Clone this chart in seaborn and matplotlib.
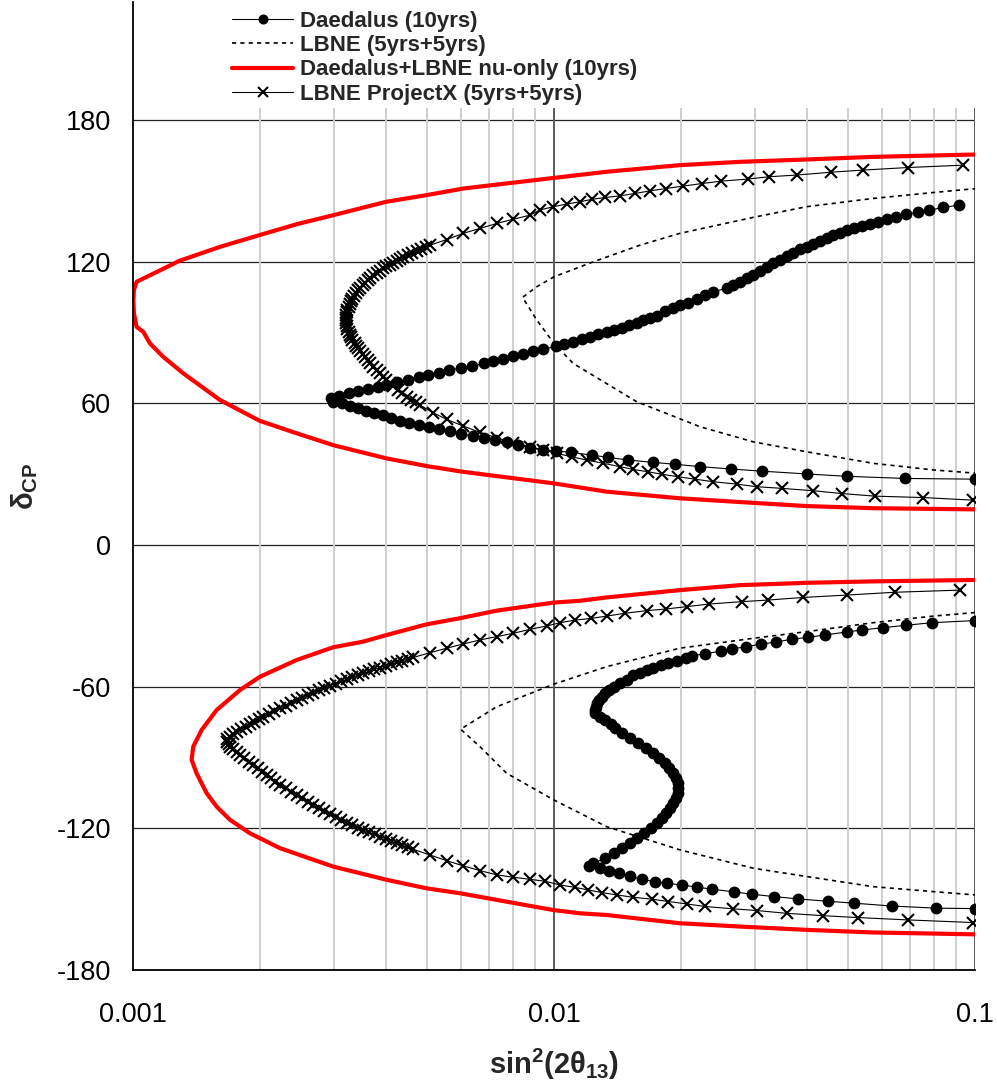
import matplotlib
matplotlib.use("Agg")
import matplotlib.pyplot as plt
import numpy as np
import seaborn as sns
from matplotlib.ticker import FixedLocator, FixedFormatter, LogLocator, MultipleLocator, NullFormatter

# (sin^2(2theta13), delta_CP) points
daedalus_upper = [
    (0.0918, 144.0), (0.0841, 143.0), (0.0779, 141.8), (0.0731, 141.0), (0.0686, 140.0),
    (0.0649, 139.0), (0.0617, 138.0), (0.0587, 137.0), (0.0563, 136.1), (0.0538, 135.1),
    (0.0516, 134.2), (0.0496, 133.4), (0.0478, 132.2), (0.0461, 131.3), (0.0444, 129.9),
    (0.0428, 128.9), (0.0413, 127.7), (0.03982, 126.3), (0.0384, 125.2), (0.03703, 123.8),
    (0.0357, 122.4), (0.03442, 120.8), (0.03319, 119.3), (0.0320, 117.6), (0.03086, 116.0),
    (0.02975, 114.5), (0.02869, 113.1), (0.02766, 111.5), (0.02667, 110.1), (0.02571, 108.7),
    (0.0239, 107.3), (0.02284, 105.7), (0.02183, 104.2), (0.02084, 102.6), (0.01992, 101.5),
    (0.0192, 100.4), (0.01835, 99.1), (0.01754, 97.1), (0.0169, 96.1), (0.0163, 95.1),
    (0.01572, 94.1), (0.01507, 93.0), (0.01448, 92.0), (0.01391, 91.0), (0.01334, 90.2),
    (0.01274, 89.2), (0.01218, 88.1), (0.01164, 87.1), (0.01108, 86.1), (0.01056, 85.0),
    (0.0101, 84.1), (0.00943, 82.9), (0.00893, 82.3), (0.00845, 80.9), (0.008, 80.0),
    (0.00758, 78.9), (0.00717, 77.9), (0.00683, 76.9), (0.00637, 75.8), (0.00601, 75.1),
    (0.00564, 74.0), (0.00533, 72.7), (0.00503, 71.9), (0.00477, 71.3), (0.00449, 69.9),
    (0.00423, 68.9), (0.004, 67.7), (0.00382, 67.0), (0.00362, 66.2), (0.00343, 65.1),
    (0.00326, 64.2), (0.00309, 63.2), (0.00295, 62.1), (0.00299, 60.7), (0.00313, 60.0),
    (0.00327, 58.9), (0.00343, 57.9), (0.00358, 56.9), (0.00374, 56.0), (0.00392, 54.9),
    (0.0041, 53.6), (0.00431, 52.6), (0.00453, 51.8), (0.00477, 50.8), (0.00505, 49.8),
    (0.00534, 49.0), (0.00566, 48.1), (0.00601, 47.0), (0.00643, 46.2), (0.00682, 45.4),
    (0.00724, 44.5), (0.00772, 43.5), (0.00823, 42.3), (0.00877, 41.2), (0.00943, 40.2),
    (0.0101, 39.9), (0.011, 39.2), (0.01229, 38.1), (0.01346, 37.1), (0.01502, 36.0),
    (0.01722, 35.0), (0.0194, 34.2), (0.02223, 33.2), (0.02633, 32.2), (0.03113, 31.3),
    (0.0398, 30.1), (0.0497, 29.1), (0.0682, 28.2), (0.1, 27.9),
]
daedalus_lower = [
    (0.1, -32.0), (0.0789, -32.9), (0.0685, -34.0), (0.0603, -35.0), (0.054, -36.0),
    (0.0497, -36.8), (0.044, -38.1), (0.0401, -39.1), (0.0367, -39.9), (0.03363, -41.1),
    (0.03097, -42.0), (0.02858, -43.1), (0.02648, -44.0), (0.02489, -45.0), (0.02284, -46.0),
    (0.02123, -47.0), (0.02058, -48.0), (0.01963, -49.0), (0.01868, -49.8), (0.01792, -50.8),
    (0.01722, -52.0), (0.0166, -52.9), (0.016, -54.1), (0.01543, -55.0), (0.01488, -57.2),
    (0.01435, -58.6), (0.01388, -60.0), (0.01353, -61.4), (0.01322, -62.8), (0.01298, -64.2),
    (0.01279, -65.6), (0.01265, -67.0), (0.01258, -68.5), (0.01254, -69.9), (0.01251, -71.3),
    (0.01286, -72.7), (0.01322, -74.1), (0.01363, -75.8), (0.01396, -77.6), (0.01448, -79.8),
    (0.01515, -81.9), (0.01586, -84.0), (0.01654, -86.1), (0.01722, -88.2), (0.01779, -90.3),
    (0.01835, -92.5), (0.01879, -94.6), (0.0192, -96.7), (0.01949, -98.8), (0.01967, -100.9),
    (0.01974, -103.0), (0.01967, -105.2), (0.01949, -107.3), (0.0192, -109.4), (0.01886, -111.5),
    (0.01845, -113.6), (0.01802, -115.7), (0.01753, -117.9), (0.01697, -120.0), (0.01636, -122.1),
    (0.01577, -124.2), (0.01515, -126.3), (0.01453, -128.4), (0.01388, -130.6), (0.01322, -132.7),
    (0.0124, -134.8), (0.01213, -135.9), (0.01286, -136.9), (0.01353, -137.9), (0.0143, -139.0),
    (0.01515, -140.2), (0.01615, -141.6), (0.01738, -142.6), (0.01859, -143.3), (0.0201, -144.0),
    (0.02189, -144.9), (0.02377, -145.8), (0.02676, -146.9), (0.02949, -147.9), (0.03332, -148.9),
    (0.03802, -149.9), (0.04482, -150.9), (0.05167, -151.7), (0.0634, -152.9), (0.0807, -153.8),
    (0.1, -154.0),
]

lbne_upper = [
    (0.1009, 151.0), (0.0796, 149.3), (0.05733, 146.8), (0.0398, 143.3), (0.02975, 138.8),
    (0.0199, 132.0), (0.016, 127.0), (0.01229, 119.7), (0.01, 113.6), (0.0091, 109.4),
    (0.00842, 104.9), (0.0091, 95.3), (0.01, 85.4), (0.01111, 76.9), (0.01572, 60.7),
    (0.02223, 50.1), (0.02975, 43.7), (0.0398, 39.5), (0.05733, 34.6), (0.0796, 31.8),
    (0.1009, 30.4),
]
lbne_lower = [
    (0.1, -28.6), (0.0796, -30.1), (0.0573, -32.9), (0.0398, -36.7), (0.02975, -39.5),
    (0.0199, -43.7), (0.01334, -51.5), (0.01, -58.9), (0.00731, -68.5), (0.006, -78.0),
    (0.00667, -85.4), (0.00772, -96.7), (0.01, -108.0), (0.01334, -119.3), (0.0199, -129.1),
    (0.02975, -136.9), (0.0398, -140.4), (0.0573, -144.7), (0.0796, -146.8), (0.1, -148.2),
]

combined_upper = [
    (0.1, 165.4), (0.0573, 164.4), (0.0398, 163.3), (0.02767, 162.3), (0.0199, 160.9),
    (0.01334, 158.1), (0.01, 155.5), (0.00609, 151.0), (0.00498, 148.2), (0.004, 145.4),
    (0.00299, 139.7), (0.00245, 135.9), (0.002, 131.3), (0.00161, 126.3), (0.00129, 120.4),
    (0.00114, 115.7), (0.00102, 111.5), (0.001005, 108.0), (0.001002, 103.7), (0.001005, 98.1),
    (0.00102, 92.4), (0.001058, 90.3), (0.001097, 85.4), (0.00118, 79.7), (0.001317, 72.7),
    (0.00161, 61.4), (0.002, 52.6), (0.00245, 47.3), (0.00299, 42.3), (0.004, 36.7),
    (0.005, 33.4), (0.00609, 31.0), (0.01, 26.1), (0.01334, 22.6), (0.0199, 19.8),
    (0.02767, 18.2), (0.0398, 16.5), (0.0573, 15.6), (0.1, 15.1),
]
combined_lower = [
    (0.1, -14.8), (0.0573, -15.4), (0.0398, -16.0), (0.02766, -17.0), (0.0199, -19.1),
    (0.01334, -22.2), (0.01153, -23.6), (0.00996, -24.4), (0.00731, -27.8), (0.00598, -31.0),
    (0.00498, -33.6), (0.004005, -38.1), (0.003524, -40.9), (0.00299, -43.3), (0.002447, -48.7),
    (0.002002, -55.8), (0.001796, -61.4), (0.00158, -69.9), (0.001456, -78.3), (0.00139, -85.4),
    (0.001378, -91.0), (0.001416, -96.7), (0.001442, -99.5), (0.001496, -105.1), (0.00158, -110.8),
    (0.0017, -116.4), (0.001896, -122.1), (0.002234, -128.4), (0.00299, -136.2), (0.004005, -141.8),
    (0.00498, -145.4), (0.00598, -147.5), (0.00731, -150.3), (0.00996, -154.6), (0.01153, -156.0),
    (0.01334, -156.7), (0.0199, -160.2), (0.02766, -161.6), (0.0398, -163.0), (0.0573, -164.1),
    (0.1, -164.9),
]

projectx_upper = [
    (0.0938, 160.9), (0.06945, 159.9), (0.0541, 158.8), (0.04542, 157.9), (0.03771, 156.7),
    (0.03248, 156.0), (0.02884, 155.0), (0.02489, 154.1), (0.02243, 153.1), (0.02021, 152.0),
    (0.01845, 151.0), (0.0169, 150.0), (0.01557, 148.9), (0.01435, 147.9), (0.01322, 147.2),
    (0.01229, 146.4), (0.01153, 145.4), (0.01072, 144.4), (0.00996, 143.3), (0.00926, 141.9),
    (0.00877, 139.7), (0.008, 138.0), (0.00731, 136.2), (0.00667, 134.1), (0.00609, 132.0),
    (0.00556, 129.4), (0.00508, 127.0), (0.00496, 126.2), (0.00484, 125.4), (0.00472, 124.6),
    (0.00461, 123.8), (0.0045, 122.9), (0.00439, 122.1), (0.00431, 121.2), (0.00423, 120.4),
    (0.00415, 119.5), (0.00407, 118.7), (0.004, 118.0), (0.00393, 117.2), (0.00386, 116.2),
    (0.00379, 115.3), (0.00372, 114.3), (0.00366, 113.2), (0.00361, 112.2), (0.00356, 111.1),
    (0.00351, 110.1), (0.00347, 109.0), (0.00343, 108.0), (0.00339, 106.8), (0.00335, 105.6),
    (0.00332, 104.4), (0.00329, 103.2), (0.00327, 102.1), (0.00325, 100.9), (0.00323, 99.7),
    (0.00322, 98.6), (0.00321, 97.4), (0.0032, 96.2), (0.0032, 95.1), (0.00321, 93.9),
    (0.00322, 92.7), (0.00323, 91.5), (0.00325, 90.3), (0.00327, 89.1), (0.0033, 88.0),
    (0.00332, 86.8), (0.00336, 85.6), (0.00339, 84.5), (0.00343, 83.3), (0.00347, 82.1),
    (0.00351, 81.0), (0.00356, 79.8), (0.00361, 78.4), (0.00366, 76.9), (0.00372, 75.5),
    (0.00379, 74.1), (0.00386, 72.7), (0.00393, 71.3), (0.004, 69.9), (0.00407, 68.6),
    (0.00415, 67.3), (0.00425, 65.8), (0.00436, 64.3), (0.00447, 62.8), (0.00458, 61.6),
    (0.00469, 60.5), (0.0048, 59.3), (0.00517, 56.0), (0.00556, 53.2), (0.00609, 50.4),
    (0.00667, 47.7), (0.00731, 45.4), (0.008, 43.4), (0.00877, 41.6), (0.00943, 40.2),
    (0.01015, 38.8), (0.01101, 37.4), (0.01196, 36.0), (0.0131, 34.6), (0.01435, 33.2),
    (0.01543, 32.0), (0.01675, 31.0), (0.01802, 30.0), (0.01974, 28.9), (0.02162, 27.9),
    (0.0239, 26.8), (0.02716, 25.8), (0.0303, 24.7), (0.03474, 24.0), (0.0413, 23.0),
    (0.04825, 21.8), (0.05788, 20.7), (0.0754, 20.1), (0.0991, 19.0),
]
projectx_lower = [
    (0.09213, -19.1), (0.06457, -20.0), (0.04958, -21.2), (0.0391, -22.2), (0.03229, -23.3),
    (0.02791, -24.0), (0.02334, -25.0), (0.02066, -26.1), (0.01845, -27.1), (0.0166, -27.8),
    (0.01475, -28.9), (0.01334, -30.1), (0.01222, -31.1), (0.01122, -31.8), (0.01034, -32.9),
    (0.0096, -34.3), (0.00877, -35.7), (0.008, -37.4), (0.00731, -38.8), (0.00667, -40.2),
    (0.00609, -41.9), (0.00556, -43.7), (0.00508, -45.6), (0.004634, -47.6), (0.004495, -48.3),
    (0.00436, -49.0), (0.004229, -49.7), (0.004103, -50.4), (0.00398, -51.2), (0.003861, -51.9),
    (0.003746, -52.7), (0.003634, -53.5), (0.003524, -54.3), (0.003419, -55.2), (0.003316, -56.0),
    (0.003217, -56.9), (0.003121, -57.8), (0.003028, -58.7), (0.002937, -59.6), (0.002849, -60.6),
    (0.002764, -61.5), (0.002681, -62.5), (0.002601, -63.5), (0.002523, -64.6), (0.002447, -65.6),
    (0.002375, -66.8), (0.002303, -68.0), (0.002234, -69.2), (0.002167, -70.4), (0.002102, -71.5),
    (0.002039, -72.7), (0.001991, -73.7), (0.001943, -74.8), (0.001896, -75.8), (0.001851, -76.9),
    (0.001806, -77.9), (0.001763, -79.0), (0.001731, -80.1), (0.001699, -81.2), (0.001669, -82.3),
    (0.001675, -83.3), (0.001687, -84.4), (0.0017, -85.4), (0.001731, -86.6), (0.001763, -87.7),
    (0.001796, -88.9), (0.00184, -90.3), (0.001885, -91.8), (0.001931, -93.2), (0.001979, -94.6),
    (0.002028, -96.0), (0.002077, -97.4), (0.002128, -98.8), (0.00218, -100.2), (0.002234, -101.6),
    (0.002303, -103.0), (0.002375, -104.5), (0.002447, -105.9), (0.002523, -107.3), (0.002601, -108.7),
    (0.002681, -110.1), (0.002764, -111.4), (0.002849, -112.6), (0.002937, -113.9), (0.00303, -115.1),
    (0.00312, -116.4), (0.003217, -117.6), (0.00332, -118.6), (0.00342, -119.7), (0.003524, -120.7),
    (0.00363, -121.6), (0.00375, -122.6), (0.003861, -123.5), (0.00398, -124.4), (0.0041, -125.4),
    (0.004229, -126.3), (0.00436, -127.2), (0.0045, -128.0), (0.004634, -128.9), (0.00508, -131.3),
    (0.00556, -133.7), (0.00609, -135.9), (0.00667, -137.9), (0.00731, -139.7), (0.008, -140.7),
    (0.00877, -141.6), (0.00952, -142.4), (0.01034, -144.0), (0.01122, -145.0), (0.01206, -146.1),
    (0.01298, -147.2), (0.01409, -148.2), (0.01543, -149.2), (0.01706, -150.0), (0.01869, -151.0),
    (0.02066, -152.0), (0.02284, -153.1), (0.02667, -154.1), (0.0303, -154.8), (0.0357, -156.0),
    (0.04364, -157.0), (0.05284, -157.8), (0.06945, -158.8), (0.0991, -159.9),
]

x_ticks = [0.001, 0.01, 0.1]
x_tick_labels = ["0.001", "0.01", "0.1"]
y_ticks = [-180, -120, -60, 0, 60, 120, 180]

legend_order = [
    "Daedalus (10yrs)",
    "LBNE (5yrs+5yrs)",
    "Daedalus+LBNE nu-only (10yrs)",
    "LBNE ProjectX (5yrs+5yrs)",
]

sns.set_theme(style="white")
plt.rcParams["font.family"] = ["Liberation Sans", "DejaVu Sans"]
plt.rcParams["axes.unicode_minus"] = False
plt.rcParams["mathtext.fontset"] = "custom"
plt.rcParams["mathtext.rm"] = "Liberation Sans:bold"
plt.rcParams["mathtext.it"] = "Liberation Sans:bold"
plt.rcParams["mathtext.bf"] = "Liberation Sans:bold"

fig = plt.figure(figsize=(9.97, 10.86), dpi=100)
ax = fig.add_axes([133 / 997, 116 / 1086, 842 / 997, 968 / 1086])
ax.set_xscale("log")


def draw(points, label, **kw):
    xs, ys = np.array(points).T
    sns.lineplot(x=xs, y=ys, sort=False, estimator=None, ax=ax, label=label, **kw)


red_style = dict(color="#ff0000", lw=3.0, solid_joinstyle="round")
draw(combined_upper, legend_order[2], **red_style)
draw(combined_lower, "_nolegend_", **red_style)

lbne_style = dict(color="black", lw=1.2, linestyle=(0, (2.5, 2.5)))
draw(lbne_upper, legend_order[1], **lbne_style)
draw(lbne_lower, "_nolegend_", **lbne_style)

px_style = dict(color="black", lw=0.8, marker="x", markersize=9,
                markeredgewidth=1.5, markeredgecolor="black")
draw(projectx_upper, legend_order[3], **px_style)
draw(projectx_lower, "_nolegend_", **px_style)

dae_style = dict(color="black", lw=0.8, marker="o", markersize=8.5,
                 markeredgewidth=0, markerfacecolor="black")
draw(daedalus_upper, legend_order[0], **dae_style)
draw(daedalus_lower, "_nolegend_", **dae_style)

ax.set_xlim(0.001, 0.1)
ax.set_ylim(-180, 230)

# vertical grid stops below the legend band
minor_grid = [m * d for d in (0.001, 0.01) for m in range(2, 10)]
ax.vlines(minor_grid, -180, 185, color="#cfcfcf", lw=1.4, zorder=0.6)
ax.vlines([0.01, 0.1], -180, 185, color="#5a5a5a", lw=1.4, zorder=0.7)
ax.set_axisbelow(True)
ax.grid(False)
ax.yaxis.grid(True, which="major", color="#222222", lw=0.9)

ax.xaxis.set_major_locator(FixedLocator(x_ticks))
ax.xaxis.set_major_formatter(FixedFormatter(x_tick_labels))
ax.xaxis.set_minor_locator(LogLocator(base=10, subs=np.arange(2, 10)))
ax.xaxis.set_minor_formatter(NullFormatter())
ax.yaxis.set_major_locator(FixedLocator(y_ticks))
ax.yaxis.set_minor_locator(MultipleLocator(10))

ax.tick_params(axis="both", which="major", direction="out", length=7, width=1,
               color="#777777", labelsize=19.5, labelcolor="black")
ax.tick_params(axis="both", which="minor", direction="in", length=5, width=1, color="black")
ax.tick_params(axis="x", which="major", pad=16)
ax.tick_params(axis="y", which="major", pad=9)

for side in ("top", "right"):
    ax.spines[side].set_visible(False)
for side in ("left", "bottom"):
    ax.spines[side].set_color("black")
    ax.spines[side].set_linewidth(1.3)

ax.set_xlabel(r"$\mathrm{sin}^2(2\theta_{13})$", fontsize=21)
ax.set_ylabel(r"$\delta_{CP}$", fontsize=21)
ax.xaxis.set_label_coords(0.5, -0.079)
ax.yaxis.set_label_coords(-0.11, 0.5)

handles, labels = ax.get_legend_handles_labels()
lookup = dict(zip(labels, handles))
ax.legend([lookup[k] for k in legend_order], legend_order,
          loc="upper left", bbox_to_anchor=(0.118, 0.991), frameon=False,
          prop={"weight": "bold", "size": 16}, handlelength=2.75, handletextpad=0.3,
          labelspacing=0.15, borderpad=0, borderaxespad=0, numpoints=1, markerscale=0.85)

fig.savefig("out.png", dpi=100)
